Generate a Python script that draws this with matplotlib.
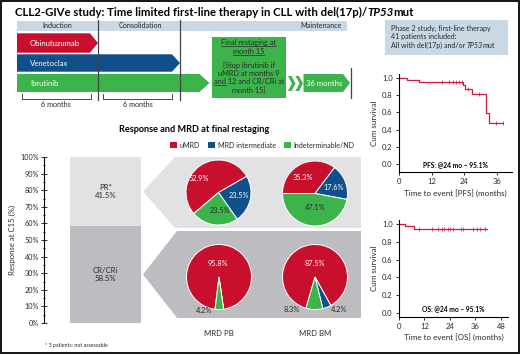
import numpy as np
import matplotlib
matplotlib.use('Agg')
import matplotlib.pyplot as plt
from matplotlib.patches import Polygon, Rectangle
from matplotlib.ticker import MultipleLocator, FormatStrFormatter, PercentFormatter

plt.rcParams['font.family'] = ['Lato', 'DejaVu Sans']

# ---- data -------------------------------------------------------------
phases = ['Induction', 'Consolidation', 'Maintenance']
drugs = ['Obinutuzumab', 'Venetoclax', 'Ibrutinib']
restaging = ['Final restaging at', 'month 15', '', '[Stop ibrutinib if',
             'uMRD at months 9', 'and 12 and CR/CRi at', 'month 15]']
study_info = ['Phase 2 study, first-line therapy', '41 patients included:']

response_labels = ['CR/CRi', 'PR*']
response_pct = [58.5, 41.5]

mrd_classes = ['uMRD', 'MRD intermediate', 'Indeterminable/ND']
mrd_titles = ['MRD PB', 'MRD BM']
mrd_pr = {'MRD PB': [52.9, 23.5, 23.5], 'MRD BM': [35.3, 17.6, 47.1]}
mrd_cr = {'MRD PB': [95.8, 0.0, 4.2], 'MRD BM': [87.5, 4.2, 8.3]}

pfs_t = [0, 3.0, 7.4, 23.6, 24.3, 26.8, 32.0, 33.1, 38.2]
pfs_s = [1.0, 0.976, 0.951, 0.915, 0.876, 0.81, 0.596, 0.479, 0.479]
pfs_cens = [15.8, 18.4, 19.9, 21.0, 22.0, 23.2, 25.4, 29.4, 35.7, 38.2]
os_t = [0, 2.8, 7.0, 41.4]
os_s = [1.0, 0.976, 0.951, 0.951]
os_cens = [9.4, 15.5, 18.4, 20.2, 21.2, 23.0, 24.0, 25.4, 29.2, 30.1,
           34.8, 36.6, 38.1, 40.5]

RED = '#c8102e'
BLUE = '#0f4f8a'
GREEN = '#3cb44b'
KMRED = '#d3173c'
HEAD = '#c8d8e5'
LGRAY = '#e2e2e4'
DGRAY = '#bdbdc1'
TXT = '#2a2a2a'

W, H = 520, 355
fig = plt.figure(figsize=(W / 100, H / 100), dpi=100)
ov = fig.add_axes([0, 0, 1, 1], zorder=0)
ov.set_xlim(0, W)
ov.set_ylim(H, 0)
ov.axis('off')
rend = fig.canvas.get_renderer()


def px_axes(x0, y0, x1, y1, **kw):
    # axes placed by pixel box (y from top)
    return fig.add_axes([x0 / W, 1 - y1 / H, (x1 - x0) / W, (y1 - y0) / H], **kw)


def arrow(x0, x1, y0, y1, tip, color):
    ym = (y0 + y1) / 2
    ov.add_patch(Polygon([(x0, y0), (x1 - tip, y0), (x1, ym), (x1 - tip, y1),
                          (x0, y1)], closed=True, fc=color, ec='none'))


def width_of(s, **kw):
    t = ov.text(0, 0, s, **kw)
    w = t.get_window_extent(rend).width
    t.remove()
    return w


# ---- title ------------------------------------------------------------
tkw = dict(fontsize=8.2, fontweight='bold', color='black')
x = 15
for s, st in [('CLL2-GIVe study: Time limited first-line therapy in CLL with del(17p)/', 'normal'),
              ('TP53', 'italic'), ('mut', 'normal')]:
    t = ov.text(x, 12, s, ha='left', va='center', fontstyle=st, **tkw)
    x += t.get_window_extent(rend).width

# ---- treatment scheme -------------------------------------------------
ov.add_patch(Rectangle((17, 20.7), 330, 10, fc=HEAD, ec='none'))
for name, xc in zip(phases, [57, 140, 321]):
    ov.text(xc, 25.8, name, ha='center', va='center', fontsize=5.2, color=TXT)
for xl in [98.3, 180.3]:
    ov.plot([xl, xl], [20, 100], color='#444444', lw=0.9)
ov.plot([350.7, 350.7], [68, 98], color='#444444', lw=0.9)

rows = [(33.3, 52.7, 98, 8, RED), (54.3, 71.7, 180, 8, BLUE), (74, 92, 209.5, 10, GREEN)]
for name, (y0, y1, x1, tip, c) in zip(drugs, rows):
    arrow(17, x1, y0, y1, tip, c)
    ov.text(30, (y0 + y1) / 2 + 0.5, name, ha='left', va='center', fontsize=5.6, color='white')

ov.add_patch(Rectangle((211.7, 36.7), 74.3, 61, fc=GREEN, ec='none'))
line_y = [42.5, 51.5, 58, 65, 73.5, 82, 90.5]
for s, yy in zip(restaging, line_y):
    if not s:
        continue
    t = ov.text(248.8, yy, s, ha='center', va='center', fontsize=5.3, color=TXT)
    bb = t.get_window_extent(rend)
    if s in restaging[:2]:
        ov.plot([bb.x0, bb.x1], [yy + 3.4, yy + 3.4], color=TXT, lw=0.5)
    elif s.startswith('and'):
        wa = width_of('and', fontsize=5.3)
        ov.plot([bb.x0, bb.x0 + wa], [yy + 3.4, yy + 3.4], color=TXT, lw=0.5)

for xc in [288, 295.5]:
    ov.add_patch(Polygon([(xc, 76), (xc + 3.5, 76), (xc + 7.5, 83.5), (xc + 3.5, 91),
                          (xc, 91), (xc + 4, 83.5)], closed=True, fc=GREEN, ec='none'))
arrow(303.5, 350, 74, 92, 7, GREEN)
ov.text(324.5, 83.5, '36 months', ha='center', va='center', fontsize=5.6, color='white')

for xa, xb in [(22, 90.7), (103, 172)]:
    ov.plot([xa, xa, xb, xb], [94.3, 98.8, 98.8, 94.3], color=TXT, lw=0.6)
    ov.text((xa + xb) / 2, 104.5, '6 months', ha='center', va='center', fontsize=5.2, color=TXT)

# ---- response bar -----------------------------------------------------
ov.text(194, 130, 'Response and MRD at final restaging', ha='center', va='center',
        fontsize=6.6, fontweight='bold', color='black')

axb = px_axes(44, 157, 141, 323, zorder=1)
axb.set_facecolor('none')
bottom = 0
for lab, val, c in zip(response_labels, response_pct, [DGRAY, LGRAY]):
    axb.bar(26, val, width=71, bottom=bottom, align='edge', color=c)
    axb.text(61.5, bottom + val / 2, f'{lab}\n{val}%', ha='center', va='center',
             fontsize=5.6, color=TXT, linespacing=1.3)
    bottom += val
axb.set_xlim(0, 97)
axb.set_ylim(0, 100)
for sp in ['top', 'right', 'bottom']:
    axb.spines[sp].set_visible(False)
axb.spines['left'].set_linewidth(0.8)
axb.set_xticks([])
axb.yaxis.set_major_locator(MultipleLocator(10))
axb.yaxis.set_minor_locator(MultipleLocator(5))
axb.yaxis.set_major_formatter(PercentFormatter(decimals=0))
axb.tick_params(axis='y', which='major', direction='inout', length=4, width=0.7,
                labelsize=5.2, pad=1.5, colors=TXT)
axb.tick_params(axis='y', which='minor', direction='inout', length=2, width=0.6)
axb.set_ylabel('Response at C15 (%)', fontsize=5.6, color=TXT, labelpad=3)


def pct_to_px(p):
    return H - axb.transData.transform((0, p))[1]


tip_pr = pct_to_px(response_pct[0] + response_pct[1] / 2)
tip_cr = pct_to_px(response_pct[0] / 2)
ov.add_patch(Polygon([(143, tip_pr), (175, 157), (361, 157), (361, 228), (175, 228)],
                     closed=True, fc=LGRAY, ec='none'))
ov.add_patch(Polygon([(143, tip_cr), (177, 231), (361, 231), (361, 318), (177, 318)],
                     closed=True, fc=DGRAY, ec='none'))

# ---- pies -------------------------------------------------------------
pie_cols = [RED, BLUE, GREEN]
pie_specs = [
    (218.5, 192.5, mrd_pr['MRD PB'], 220.4,
     [(-0.59, 0.44), (0.62, -0.09), (0.03, -0.56)]),
    (315, 193.5, mrd_pr['MRD BM'], 180,
     [(-0.37, 0.5), (0.59, 0.19), (0.0, -0.44)]),
    (219, 277, mrd_cr['MRD PB'], 263,
     [(-0.03, 0.41), None, (-0.47, -1.03)]),
    (315, 277, mrd_cr['MRD BM'], 254,
     [(0.0, 0.41), (0.75, -1.0), (-0.72, -1.0)]),
]
r = 32.5
for cx, cy, vals, start, lpos in pie_specs:
    ax = px_axes(cx - r, cy - r, cx + r, cy + r, zorder=2)
    ax.pie(vals, colors=pie_cols, startangle=start, counterclock=False,
           wedgeprops=dict(ec='white', lw=0.7))
    ax.set_xlim(-1, 1)
    ax.set_ylim(-1, 1)
    ax.axis('off')
    for v, pos, c in zip(vals, lpos, pie_cols):
        if pos is None or v == 0:
            continue
        inside = abs(pos[0]) < 0.9 and abs(pos[1]) < 0.9
        col = 'white' if (inside and c != GREEN) else TXT
        ax.text(pos[0], pos[1], f'{v}%', ha='center', va='center', fontsize=5.3,
                color=col, clip_on=False)

for name, xc in zip(mrd_titles, [218.5, 315]):
    ov.text(xc, 333, name, ha='center', va='center', fontsize=5.6, color=TXT)

fig.legend(handles=[Rectangle((0, 0), 1, 1, fc=c, ec='none') for c in pie_cols],
           labels=mrd_classes, ncol=3, loc='center', bbox_to_anchor=(262 / W, 1 - 145 / H),
           frameon=False, fontsize=5.1, handlelength=1.0, handleheight=1.0,
           handletextpad=0.4, columnspacing=1.1, labelcolor=TXT)

ov.text(45, 345, '* 3 patients: not assessable', ha='left', va='center', fontsize=3.8, color=TXT)

# ---- study info box ---------------------------------------------------
ov.add_patch(Rectangle((385, 20), 123, 35, fc=HEAD, ec='none'))
for s, yy in zip(study_info, [28.5, 37]):
    ov.text(391, yy, s, ha='left', va='center', fontsize=5.1, color=TXT)
x = 391
for s, st in [('All with del(17p) and/or ', 'normal'), ('TP53', 'italic'), ('mut', 'normal')]:
    t = ov.text(x, 45.5, s.rstrip(), ha='left', va='center', fontsize=5.1, color=TXT, fontstyle=st)
    x += t.get_window_extent(rend).width + (1.4 if s.endswith(' ') else 0)


# ---- Kaplan-Meier curves ----------------------------------------------
def km(box, t, s, cens, xmax, xticks, ylo, tag, label):
    ax = px_axes(*box, zorder=1)
    ax.set_facecolor('none')
    ax.step(t, s, where='post', color=KMRED, lw=0.9)
    idx = np.searchsorted(t, cens, side='right') - 1
    ax.plot(cens, np.asarray(s)[idx], ls='none', marker='|', ms=2.5, mew=0.5, color=KMRED)
    ax.set_xlim(0, xmax)
    ax.set_ylim(ylo, 1.047)
    ax.set_xticks(xticks)
    ax.set_yticks(np.arange(0, 1.01, 0.2))
    ax.yaxis.set_major_formatter(FormatStrFormatter('%.1f'))
    for sp in ['top', 'right']:
        ax.spines[sp].set_visible(False)
    for sp in ['left', 'bottom']:
        ax.spines[sp].set_linewidth(0.8)
    ax.tick_params(length=2.5, width=0.7, labelsize=5.5, pad=2, colors=TXT)
    ax.set_ylabel('Cum survival', fontsize=5.8, color=TXT, labelpad=3)
    ax.set_xlabel(f'Time to event [{tag}] (months)', fontsize=5.8, color=TXT, labelpad=2.5)
    ax.text(0.5, 0.08, label, transform=ax.transAxes, ha='center', va='center',
            fontsize=4.8, fontweight='bold', color='black')
    return ax


km((399, 74, 512, 172), pfs_t, pfs_s, pfs_cens, 41.5, [0, 12, 24, 36], -0.094, 'PFS',
   'PFS: @24 mo \u2013 95.1%')
km((399, 220, 508, 316.7), os_t, os_s, os_cens, 51.3, [0, 12, 24, 36, 48], -0.045, 'OS',
   'OS: @24 mo \u2013 95.1%')

ov.add_patch(Rectangle((1, 1), 518, 352, fill=False, ec='black', lw=1.3, clip_on=False))

fig.savefig('out.png', dpi=100)
